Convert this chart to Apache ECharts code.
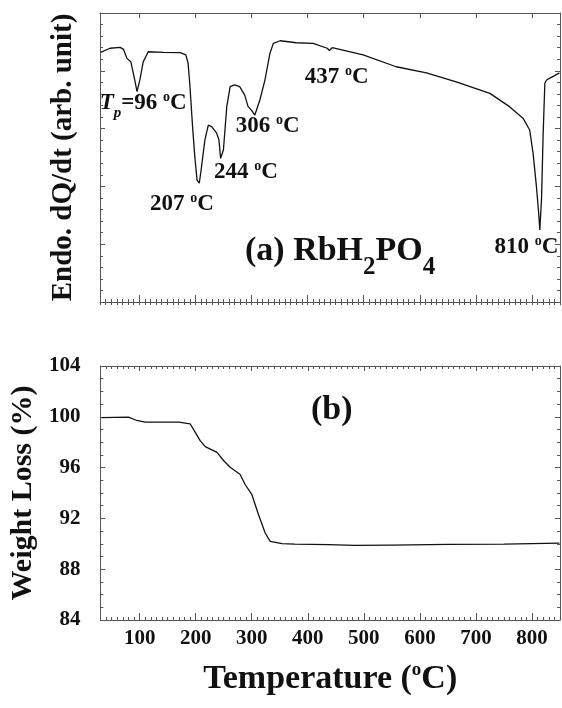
<!DOCTYPE html>
<html>
<head>
<meta charset="utf-8">
<title>RbH2PO4 DSC / TGA</title>
<script src="https://cdn.jsdelivr.net/npm/echarts@6/dist/echarts.min.js"></script>
<style>
  html, body { margin: 0; padding: 0; background: #fff; }
  #chart { width: 562px; height: 708px; }
</style>
</head>
<body>
<div id="chart"></div>
<script>
// (a) DSC trace, temperature in oC vs. signal in arbitrary units
const dscTemp = [31, 48, 66, 72, 78, 85, 92, 96, 101, 107, 116, 143, 173, 183, 187, 190, 195, 199, 203, 207,
  211, 217, 223, 229, 238, 242, 245, 250, 256, 262, 270, 279, 288, 294, 300, 306, 315, 324, 333, 339,
  351, 380, 410, 435, 439, 444, 499, 558, 612, 665, 725, 760, 784, 796, 802, 808, 812, 814, 817, 820,
  823, 826, 837, 849];
const dscSignal = [86.4, 87.8, 88.1, 87.4, 84.3, 83.1, 76.8, 72.8, 76.8, 83.1, 86.6, 86.4, 86.3, 85.5, 82.6, 75.7, 60.7, 50.3, 42.2, 41.1,
  46.8, 56.1, 61.2, 60.7, 58.4, 56.1, 49.7, 52.6, 67.6, 74.5, 75.1, 74.5, 71.6, 67.6, 66.4, 64.7, 69.9, 76.8, 86.1, 89.5,
  90.4, 89.7, 89.5, 87.8, 87.0, 88.0, 85.5, 81.4, 79.3, 76.2, 72.2, 67.6, 63.6, 59.5, 51.5, 39.9, 30.7, 24.9, 35.3, 58.4,
  75.7, 76.8, 78.0, 79.3];

// (b) TGA trace, weight loss in %
const tgaTemp = [32, 80, 95, 110, 170, 190, 199, 208, 217, 238, 250, 262, 279, 288, 300, 312, 324, 333, 354, 377,
  437, 484, 550, 650, 750, 849];
const tgaWeight = [99.93, 99.98, 99.71, 99.58, 99.58, 99.45, 98.79, 98.13, 97.65, 97.2, 96.54, 96.01, 95.48, 94.69, 93.9, 92.31, 90.85, 90.19, 90.01, 89.98,
  89.93, 89.87, 89.9, 89.95, 89.98, 90.05];

// peak temperatures written on the DSC panel
const peakText = ['96', '207', '244', '306', '437', '810'];
// where each peak label sits (temperature, signal)
const peakLabelAt = [[107, 69], [176, 34], [290, 45], [329, 61], [452, 78], [790, 19]];

const tempTicks = [100, 200, 300, 400, 500, 600, 700, 800];
const weightTicks = [84, 88, 92, 96, 100, 104];

const SERIF = '"Liberation Serif", "DejaVu Serif", serif';
const FRAME = '#555';
const INK = '#111';

const richText = {
  n: { fontFamily: SERIF, fontWeight: 'bold', fontSize: 23, color: INK, lineHeight: 25 },
  sup: { fontFamily: SERIF, fontWeight: 'bold', fontSize: 14, color: INK, lineHeight: 12, verticalAlign: 'top' },
  it: { fontFamily: SERIF, fontWeight: 'bold', fontStyle: 'italic', fontSize: 23, color: INK, lineHeight: 25 },
  isub: { fontFamily: SERIF, fontWeight: 'bold', fontStyle: 'italic', fontSize: 15, color: INK, lineHeight: 15, verticalAlign: 'bottom', padding: [0, 0, -6, 0] },
};

function xAxesFor(grid, withLabels) {
  let base = {
    type: 'value', gridIndex: grid, min: 30, max: 850,
    splitLine: { show: false },
  };
  return [
    Object.assign({}, base, {
      position: 'bottom',
      axisLine: { show: true, onZero: false, lineStyle: { color: FRAME, width: 1 } },
      axisTick: { inside: true, length: 7, customValues: tempTicks, lineStyle: { color: FRAME } },
      axisLabel: {
        show: withLabels, customValues: tempTicks, margin: 8,
        fontFamily: SERIF, fontWeight: 'bold', fontSize: 21, color: INK,
      },
    }),
    Object.assign({}, base, {
      position: 'bottom', interval: 10,
      axisLine: { show: false },
      axisTick: { inside: true, length: 3, lineStyle: { color: FRAME } },
      axisLabel: { show: false },
    }),
    Object.assign({}, base, {
      position: 'top',
      axisLine: { show: true, onZero: false, lineStyle: { color: FRAME, width: 1 } },
      axisTick: { inside: true, length: 5, customValues: tempTicks, lineStyle: { color: FRAME } },
      axisLabel: { show: false },
    }),
    Object.assign({}, base, {
      position: 'top', interval: 10,
      axisLine: { show: false },
      axisTick: { inside: true, length: 3, lineStyle: { color: FRAME } },
      axisLabel: { show: false },
    }),
  ];
}

function yAxesFor(grid, min, max, interval, minors, name, nameSize, nameGap, withLabels) {
  let base = {
    type: 'value', gridIndex: grid, min: min, max: max, interval: interval,
    splitLine: { show: false },
    axisLine: { show: true, onZero: false, lineStyle: { color: FRAME, width: 1 } },
    axisTick: { inside: true, length: 5, lineStyle: { color: FRAME } },
    minorTick: { show: true, splitNumber: minors, length: 3, lineStyle: { color: FRAME } },
  };
  return [
    Object.assign({}, base, {
      position: 'left',
      name: name, nameLocation: 'middle', nameGap: nameGap, nameRotate: 90,
      nameTextStyle: { fontFamily: SERIF, fontWeight: 'bold', fontSize: nameSize, color: INK },
      axisLabel: {
        show: withLabels, margin: 20,
        fontFamily: SERIF, fontWeight: 'bold', fontSize: 21, color: INK,
      },
    }),
    Object.assign({}, base, {
      position: 'right',
      axisLabel: { show: false },
    }),
  ];
}

let chart = echarts.init(document.getElementById('chart'), null, { renderer: 'canvas' });

let xAxis = xAxesFor(0, false).concat(xAxesFor(1, true));
xAxis[4].name = '{n|Temperature (}{s|o}{n|C)}';
xAxis[4].nameLocation = 'middle';
xAxis[4].nameGap = 41;
xAxis[4].nameTextStyle = {
  rich: {
    n: { fontFamily: SERIF, fontWeight: 'bold', fontSize: 34, color: INK, lineHeight: 36 },
    s: { fontFamily: SERIF, fontWeight: 'bold', fontSize: 19, color: INK, lineHeight: 18, verticalAlign: 'top' },
  },
};

let yAxis = yAxesFor(0, 0, 100, 20, 5, 'Endo. dQ/dt (arb. unit)', 29, 22, false)
  .concat(yAxesFor(1, weightTicks[0], weightTicks[weightTicks.length - 1], 4, 4, 'Weight Loss (%)', 30, 59, true));

let option = {
  animation: false,
  backgroundColor: '#fff',
  title: [
    {
      text: '{n|(a) RbH}{sub|2}{n|PO}{sub|4}',
      left: 240, top: 227,
      textStyle: {
        rich: {
          n: { fontFamily: SERIF, fontWeight: 'bold', fontSize: 34, color: INK, lineHeight: 38 },
          sub: { fontFamily: SERIF, fontWeight: 'bold', fontSize: 25, color: INK, lineHeight: 24, verticalAlign: 'bottom', padding: [0, 0, -10, 0] },
        },
      },
    },
    {
      text: '(b)',
      left: 306, top: 388,
      textStyle: { fontFamily: SERIF, fontWeight: 'bold', fontSize: 34, color: INK },
    },
  ],
  grid: [
    { left: 100, right: 2, top: 13, height: 289 },
    { left: 100, right: 2, top: 366, height: 254 },
  ],
  xAxis: xAxis,
  yAxis: yAxis,
  series: [
    {
      type: 'line',
      xAxisIndex: 0, yAxisIndex: 0,
      data: dscTemp.map((t, i) => [t, dscSignal[i]]),
      showSymbol: false, silent: true,
      lineStyle: { color: INK, width: 1.3 },
    },
    {
      type: 'scatter',
      xAxisIndex: 0, yAxisIndex: 0,
      symbolSize: 0, silent: true,
      itemStyle: { color: INK, opacity: 1 },
      data: peakText.map((t, i) => ({ name: t, value: peakLabelAt[i] })),
      label: {
        show: true, position: 'inside', color: INK, opacity: 1,
        formatter: p => p.dataIndex === 0
          ? '{it|T}{isub|p}{n|=' + p.name + ' }{sup|o}{n|C}'
          : '{n|' + p.name + ' }{sup|o}{n|C}',
        rich: richText,
      },
    },
    {
      type: 'line',
      xAxisIndex: 4, yAxisIndex: 2,
      data: tgaTemp.map((t, i) => [t, tgaWeight[i]]),
      showSymbol: false, silent: true,
      lineStyle: { color: INK, width: 1.3 },
    },
  ],
};

chart.setOption(option);
</script>
</body>
</html>
